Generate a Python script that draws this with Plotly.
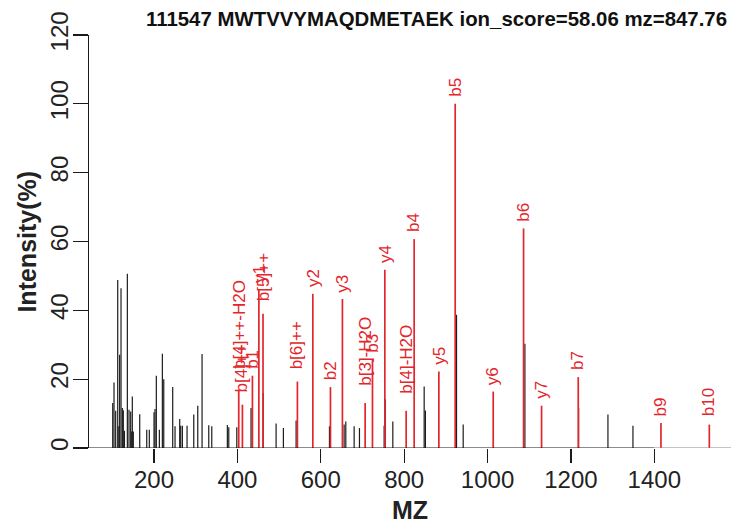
import plotly.graph_objects as go

# ---- data ----
black_mz = [100.9, 104, 108, 112.9, 115.5, 117.5, 120.8, 124, 126.3, 129, 136, 140, 144, 146.5,
            147.9, 150.3, 165.7, 182.5, 188.7, 200, 202.4, 205.5, 212.8, 220, 223.3, 244.8, 250.4,
            261.6, 264, 268, 279.2, 295.3, 304.9, 315.2, 331.3, 338.5, 375.9, 379.3, 398.5, 432.7,
            461.8, 492.8, 510.3, 540.8, 620.8, 656, 660, 680, 692.8, 752, 754.5, 772.8, 848, 851,
            925.6, 941.6, 1089.6, 1218.5, 1288.8, 1348.8]
black_int = [13.1, 19.0, 10.8, 48.8, 6.3, 27.1, 46.4, 11.6, 11.0, 5.0, 50.6, 11.1, 10.6, 4.8,
             15.0, 4.8, 9.8, 5.3, 5.3, 10.4, 11.3, 21.0, 5.3, 27.4, 20.0, 17.7, 6.3,
             8.4, 6.5, 6.5, 6.5, 9.7, 12.3, 27.3, 6.6, 6.3, 6.7, 6.0, 6.0, 11.6,
             16.0, 7.1, 5.8, 8.0, 6.3, 6.8, 7.7, 6.3, 5.8, 6.5, 14.2, 7.7, 17.9, 10.9,
             38.7, 6.8, 30.3, 11.7, 9.7, 6.5]

red_mz = [403.2, 412, 436, 451.5, 461.4, 543.9, 580.9, 623.2, 651.9, 706.4, 724, 753.6,
          804.8, 824, 883.2, 922.4, 1013.6, 1086.4, 1129.6, 1217.6, 1416, 1532]
red_int = [17.0, 12.6, 21.0, 46.0, 39.0, 19.3, 44.8, 17.7, 43.3, 13.1, 25.7, 51.8,
           10.8, 60.7, 22.2, 100.0, 16.4, 63.8, 12.3, 20.6, 7.3, 6.8]
red_labels = ["b[4]++-H2O", "b[4]++", "b1", "y1", "b[5]++", "b[6]++", "y2", "b2", "y3",
              "b[3]-H2O", "b3", "y4", "b[4]-H2O", "b4", "y5", "b5", "y6", "b6", "y7", "b7",
              "b9", "b10"]

x_ticks = [200, 400, 600, 800, 1000, 1200, 1400]
y_ticks = [0, 20, 40, 60, 80, 100, 120]
title_text = "111547 MWTVVYMAQDMETAEK ion_score=58.06 mz=847.76"
x_title = "MZ"
y_title = "Intensity(%)"

RED = "#e3262b"
FONT = "Liberation Sans, Arial, sans-serif"
LABEL_SIZE = 17
X_RANGE = [44, 1584]

# approximate Arial character widths (em) to offset rotated labels like R's adj
CW = {"b": .556, "y": .5, "[": .278, "]": .278, "+": .584, "-": .333, "H": .722, "O": .778}


def text_len(s, size):
    return sum(CW.get(c, .556) for c in s) * size


def stems(xs, ys):
    X, Y = [], []
    for x, y in zip(xs, ys):
        X += [x, x, None]
        Y += [0, y, None]
    return X, Y


fig = go.Figure()
bx, by = stems(black_mz, black_int)
fig.add_trace(go.Scatter(x=bx, y=by, mode="lines", line=dict(color="#1c1c1c", width=1.2),
                         hoverinfo="skip", showlegend=False))
rx, ry = stems(red_mz, red_int)
fig.add_trace(go.Scatter(x=rx, y=ry, mode="lines", line=dict(color=RED, width=1.7),
                         hoverinfo="skip", showlegend=False))

annotations = []
for x, y, lab in zip(red_mz, red_int, red_labels):
    annotations.append(dict(x=x, y=y, xref="x", yref="y", text=lab, textangle=-90,
                            showarrow=False, xanchor="center", yanchor="bottom",
                            yshift=1 + 0.2 * text_len(lab, LABEL_SIZE),
                            font=dict(family=FONT, size=LABEL_SIZE, color=RED)))
annotations.append(dict(x=0.542, y=1.0387, xref="paper", yref="paper", text="<b>" + title_text + "</b>",
                        showarrow=False, xanchor="center", yanchor="middle",
                        font=dict(family=FONT, size=20.4, color="#111")))
annotations.append(dict(x=0.5, y=-0.150, xref="paper", yref="paper", text="<b>" + x_title + "</b>",
                        showarrow=False, xanchor="center", yanchor="middle",
                        font=dict(family=FONT, size=25, color="#222")))
annotations.append(dict(x=-0.098, y=0.5, xref="paper", yref="paper", text="<b>" + y_title + "</b>",
                        showarrow=False, xanchor="center", yanchor="middle", textangle=-90,
                        font=dict(family=FONT, size=25, color="#222")))

split = (1400 - X_RANGE[0]) / (X_RANGE[1] - X_RANGE[0])
shapes = [
    dict(type="line", xref="paper", yref="y", x0=0, x1=split, y0=0, y1=0,
         line=dict(color="#1a1a1a", width=1.2)),
    dict(type="line", xref="paper", yref="y", x0=split, x1=1, y0=0, y1=0,
         line=dict(color="#8a8a8a", width=1.2)),
]

fig.update_layout(
    width=731, height=527,
    margin=dict(l=89, r=0, t=35, b=79, pad=0),
    paper_bgcolor="white", plot_bgcolor="white",
    font=dict(family=FONT, color="#222"),
    annotations=annotations, shapes=shapes,
    xaxis=dict(range=X_RANGE, tickvals=x_ticks, ticktext=[str(v) for v in x_ticks],
               ticks="outside", ticklen=14, tickwidth=1.2, tickcolor="#1a1a1a",
               showgrid=False, zeroline=False, showline=False, automargin=False,
               ticklabelstandoff=-4,
               tickfont=dict(size=24, family=FONT, color="#222")),
    yaxis=dict(range=[0, 120], tickvals=y_ticks, ticktext=[str(v) for v in y_ticks],
               ticks="outside", ticklen=15, tickwidth=1.2, tickcolor="#1a1a1a",
               showline=True, linecolor="#1a1a1a", linewidth=1.2, automargin=False,
               showgrid=False, zeroline=False, tickangle=-90, ticklabelstandoff=-5,
               tickfont=dict(size=24, family=FONT, color="#222")),
)

fig.write_html(
    "out.html",
    config={"displayModeBar": False, "staticPlot": True},
    post_script="document.body.style.margin='0';document.body.style.padding='0';"
                "document.documentElement.style.overflow='hidden';",
)
